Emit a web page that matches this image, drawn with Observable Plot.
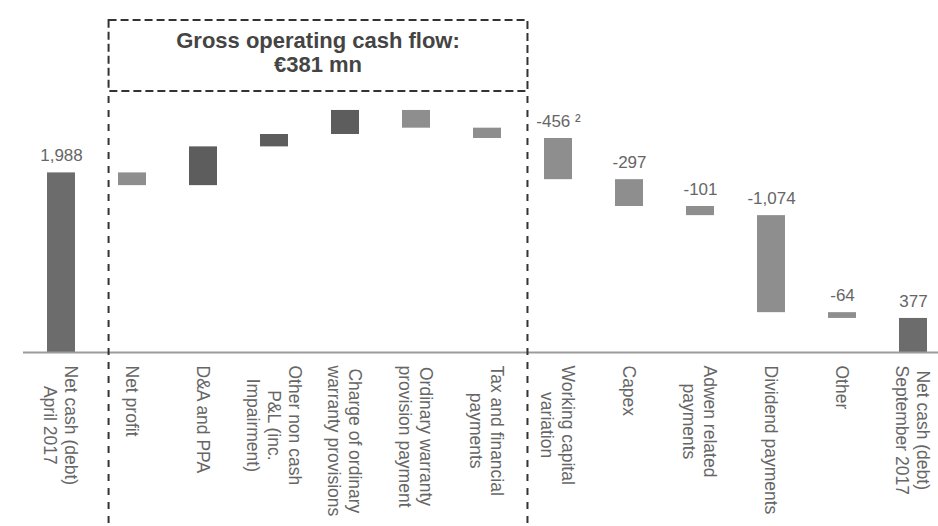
<!DOCTYPE html>
<html><head><meta charset="utf-8">
<script src="https://cdn.jsdelivr.net/npm/d3@7"></script>
<script src="https://cdn.jsdelivr.net/npm/@observablehq/plot@0.6"></script>
<style>body{margin:0;background:#fff}</style>
</head><body><div id="chart"></div>
<script>
// ---- data ----
const categories = ["Net cash (debt) April 2017", "Net profit", "D&A and PPA", "Other non cash P&L (inc. Impairment)", "Charge of ordinary warranty provisions", "Ordinary warranty provision payment", "Tax and financial payments", "Working capital variation", "Capex", "Adwen related payments", "Dividend payments", "Other", "Net cash (debt) September 2017"];
const tickLabels = ["Net cash (debt)\nApril 2017", "Net profit", "D&A and PPA", "Other non cash\nP&L (inc.\nImpairment)", "Charge of ordinary\nwarranty provisions", "Ordinary warranty\nprovision payment", "Tax and financial\npayments", "Working capital\nvariation", "Capex", "Adwen related\npayments", "Dividend payments", "Other", "Net cash (debt)\nSeptember 2017"];
const values = [1988, -141, 429, 137, 266, -196, -114, -456, -297, -101, -1074, -64, 377];
const kinds = ["total", "delta", "delta", "delta", "delta", "delta", "delta", "delta", "delta", "delta", "delta", "delta", "total"];
const groups = ["", "gocf", "gocf", "gocf", "gocf", "gocf", "gocf", "", "", "", "", "", ""];
const footnotes = ["", "", "", "", "", "", "", "²", "", "", "", "", ""];
const boxTitle = "Gross operating cash flow:";

// ---- waterfall table ----
const fmt = v => (v < 0 ? "-" : "") + d3.format(",")(Math.abs(v));
let running = 0;
const rows = categories.map((c, i) => {
  const v = values[i];
  let y1, y2;
  if (kinds[i] === "total") { y1 = 0; y2 = v; running = v; }
  else { y1 = running; y2 = running + v; running = y2; }
  return {cat: c, tick: tickLabels[i], value: v, kind: kinds[i], group: groups[i], y1, y2,
    top: Math.max(y1, y2),
    label: groups[i] === "gocf" ? "" : fmt(v) + (footnotes[i] ? " " + footnotes[i] : "")};
});
const gocfSum = d3.sum(rows.filter(d => d.group === "gocf"), d => d.value);
const fillOf = d => d.kind === "total" ? "#6c6c6c" : (d.value >= 0 ? "#5d5d5d" : "#8e8e8e");

const plot = Plot.plot({
  width: 938, height: 526,
  marginTop: 90, marginBottom: 174, marginLeft: 23, marginRight: 0,
  style: {fontFamily: "'Liberation Sans', Arial, sans-serif", background: "#fff", color: "#555"},
  x: {domain: categories, paddingInner: 0.6, paddingOuter: 0.221, align: 0.7, axis: null},
  y: {domain: [0, 2900], axis: null},
  marks: [
    Plot.barY(rows, {x: "cat", y1: "y1", y2: "y2", fill: fillOf}),
    Plot.ruleY([0], {stroke: "#9c9c9c", strokeWidth: 2}),
    Plot.text(rows.filter(d => d.label), {x: "cat", y: "top", text: "label", dy: -17, fontSize: 17, fill: "#666"}),
    Plot.text(rows, {x: "cat", text: "tick", frameAnchor: "bottom", rotate: 90, textAnchor: "start", lineAnchor: "middle", lineHeight: 1.2, dy: 13, fontSize: 17.5, fill: "#666"})
  ]
});
document.getElementById("chart").appendChild(plot);

// center the lines of multi-line tick labels against each other
const textGroups = plot.querySelectorAll('g[aria-label="text"]');
const tickGroup = textGroups[textGroups.length - 1];
tickGroup.querySelectorAll("text").forEach(t => {
  const spans = t.querySelectorAll("tspan");
  if (spans.length < 2) return;
  const lens = Array.from(spans, s => s.getComputedTextLength());
  const mx = d3.max(lens);
  spans.forEach((s, k) => s.setAttribute("x", (mx - lens[k]) / 2));
});

// dashed "gross operating cash flow" frame, positioned from the x scale
const xs = plot.scale("x");
const bw = xs.bandwidth;
const step = xs.step || bw / 0.4;
const cx = c => xs.apply(c) + bw / 2;
const gocfCats = rows.filter(d => d.group === "gocf").map(d => d.cat);
const left = cx(gocfCats[0]) - 0.33 * step;
const right = cx(gocfCats[gocfCats.length - 1]) + 0.57 * step;
const svg = d3.select(plot);
const g = svg.append("g").attr("fill", "none").attr("stroke", "#333").attr("stroke-width", 2);
g.append("rect").attr("x", left).attr("y", 20).attr("width", right - left).attr("height", 71)
  .attr("stroke-dasharray", "8,4");
[left, right].forEach(xp => g.append("line").attr("x1", xp).attr("x2", xp).attr("y1", 96).attr("y2", 526)
  .attr("stroke-dasharray", "7,7"));
const tg = svg.append("g").attr("text-anchor", "middle").attr("fill", "#444")
  .attr("font-weight", "bold").attr("font-size", 22).attr("font-family", "'Liberation Sans', Arial, sans-serif");
tg.append("text").attr("x", (left + right) / 2).attr("y", 48).text(boxTitle);
tg.append("text").attr("x", (left + right) / 2).attr("y", 72).text("€" + fmt(gocfSum) + " mn");
</script>
</body></html>
